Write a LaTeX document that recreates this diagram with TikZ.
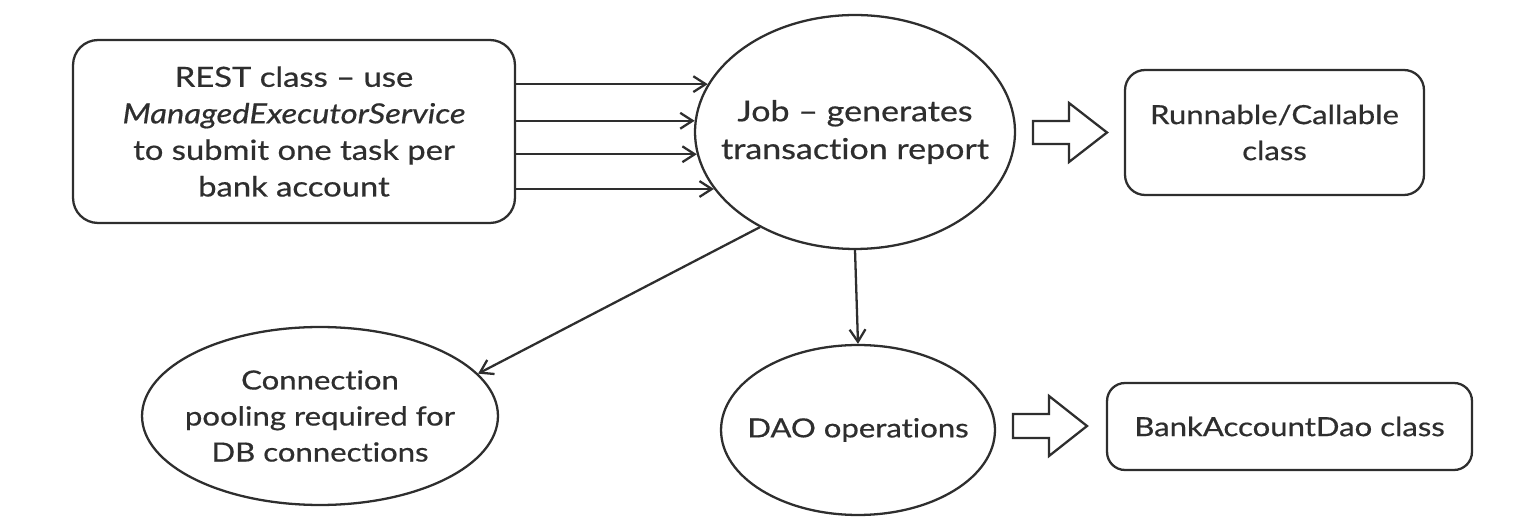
\documentclass[tikz,border=0pt]{standalone}
\usepackage{fontspec}
\setmainfont{Lato}[Ligatures=NoCommon,FakeStretch=1.18,UprightFeatures={FakeBold=0.6},ItalicFeatures={FakeBold=0.6}]
\usepackage{xcolor}
\usepackage{tikz}
\usetikzlibrary{arrows.meta}
\usetikzlibrary{shapes.geometric}
\definecolor{ink}{HTML}{2E2E2E}

\begin{document}
\begin{tikzpicture}[x=0.02cm,y=-0.02cm,
    every node/.style={text=ink,align=center,font=\fontsize{15}{20.5}\selectfont},
    box/.style={draw=ink,line width=1.3pt,rounded corners=0.5cm,inner sep=0pt},
    blob/.style={draw=ink,line width=1.3pt,ellipse,inner xsep=-1.2cm,inner ysep=-0.5cm},
    link/.style={draw=ink,line width=1.3pt,-{Straight Barb[length=7pt,width=9pt]}},
    fat/.style={draw=ink,line width=1.3pt,line join=miter,fill=white}]
    \useasboundingbox (0,0) rectangle (1534,526);
    % boxes and ellipses
    \node[box,minimum width=8.84cm,minimum height=3.66cm,font=\fontsize{15.8}{20.8}\selectfont] (rest) at (294,131.5)
      {REST class – use\\ \textit{ManagedExecutorService}\\ to submit one task per\\ bank account};
    \node[blob,minimum width=6.4cm,minimum height=4.68cm,font=\fontsize{16.4}{21.5}\selectfont] (job) at (855,132)
      {Job – generates\\ transaction report};
    \node[box,rounded corners=0.4cm,minimum width=5.98cm,minimum height=2.5cm] (task) at (1274.5,132.5)
      {Runnable/Callable\\ class};
    \node[blob,minimum width=7.12cm,minimum height=3.56cm] (pool) at (320,416)
      {Connection\\ pooling required for\\ DB connections};
    \node[blob,minimum width=5.48cm,minimum height=3.4cm] (dao) at (858,430)
      {DAO operations};
    \node[box,rounded corners=0.36cm,minimum width=7.3cm,minimum height=1.74cm] (daoclass) at (1289.5,426.5)
      {BankAccountDao class};
    %
    \foreach \a in {162.6,176,188.3,202.6}
      \draw[link] (rest.east |- job.\a) -- (job.\a);
    \draw[link] (job.225.3) -- (pool.15.3);
    \draw[link] (job.south) -- (dao.north);
    %
    \draw[fat] (1033,121) -- ++(36,0) -- ++(0,-18) -- ++(38,29.5) -- ++(-38,29.5) -- ++(0,-18) -- ++(-36,0) -- cycle;
    \draw[fat] (1013,414) -- ++(36,0) -- ++(0,-18) -- ++(38,30) -- ++(-38,30) -- ++(0,-18) -- ++(-36,0) -- cycle;
\end{tikzpicture}
\end{document}
